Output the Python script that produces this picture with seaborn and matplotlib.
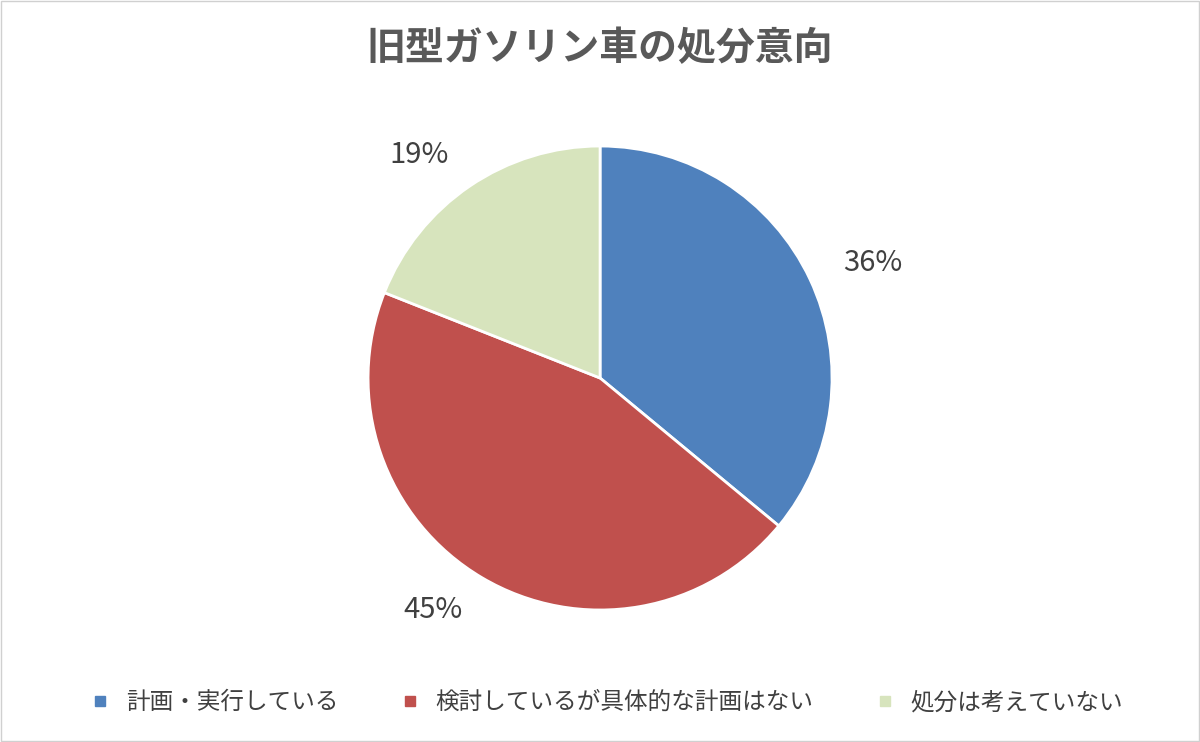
import matplotlib
matplotlib.use("Agg")
import matplotlib.pyplot as plt
import seaborn as sns
from matplotlib.patches import Rectangle
from matplotlib.lines import Line2D

sns.set_theme(style="white")
plt.rcParams['font.family'] = ['Noto Sans CJK JP', 'DejaVu Sans']

categories = ["計画・実行している", "検討しているが具体的な計画はない", "処分は考えていない"]
values = [36, 45, 19]
colors = ["#4F81BD", "#C0504D", "#D7E4BD"]
title = "旧型ガソリン車の処分意向"

fig = plt.figure(figsize=(12, 7.42), dpi=100)
fig.patch.set_facecolor("white")
fig.add_artist(Rectangle((0.001, 0.001), 0.998, 0.998, transform=fig.transFigure,
                         fill=False, edgecolor="#D0D0D0", linewidth=1))
ax = fig.add_axes([0.3067, 0.1779, 0.3867, 0.6253])
wedges, texts = ax.pie(values, colors=colors, startangle=90, counterclock=False,
                       radius=1, labels=[f"{v}%" for v in values], labeldistance=1.16,
                       wedgeprops=dict(edgecolor="white", linewidth=2),
                       textprops=dict(fontsize=21, color="#404040"))
ax.set_xlim(-1, 1); ax.set_ylim(-1, 1); ax.set_aspect("equal"); ax.axis("off")

fig.text(0.5, 0.935, title, ha="center", va="center", fontsize=28,
         fontweight="bold", color="#595959")

handles = [Line2D([0], [0], marker="s", linestyle="", markersize=7,
                  markerfacecolor=c, markeredgecolor=c) for c in colors]
fig.legend(handles, categories, loc="center", bbox_to_anchor=(0.5, 0.053), ncol=3,
           frameon=False, fontsize=17, labelcolor="#404040", handletextpad=0.1,
           columnspacing=2.0)
fig.savefig("out.png", dpi=100)
